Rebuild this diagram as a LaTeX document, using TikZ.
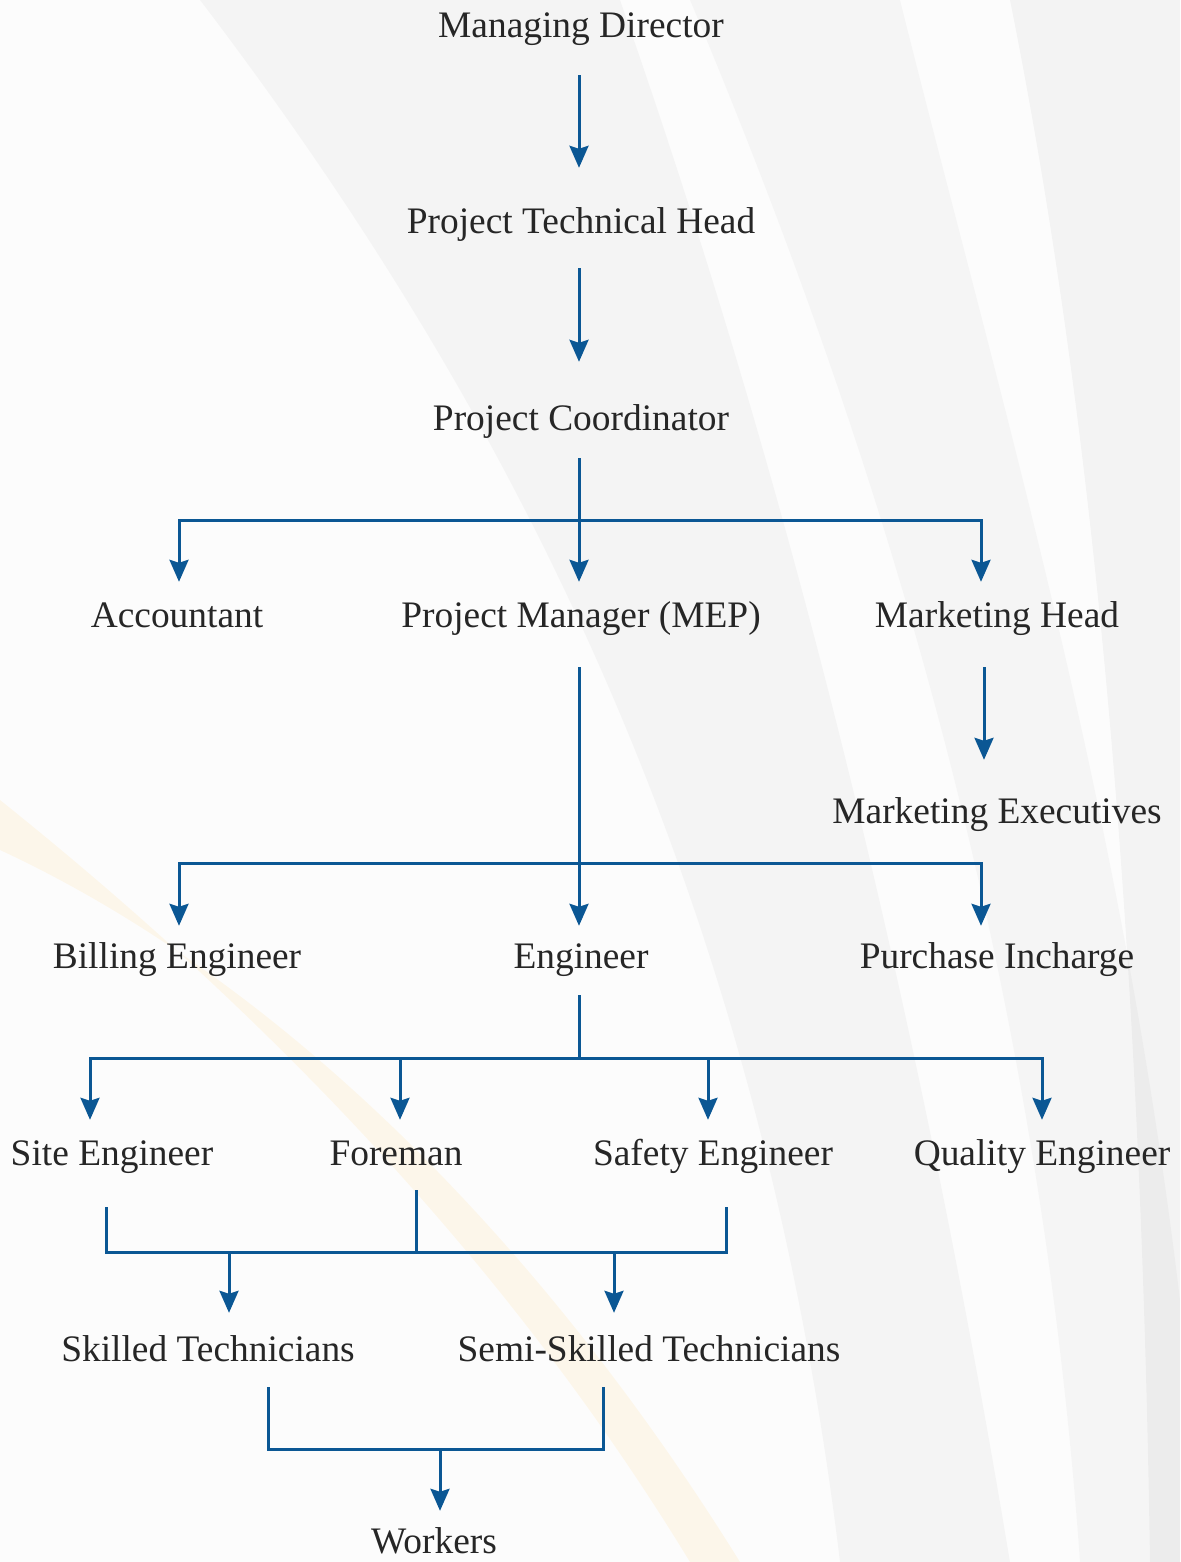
\documentclass[tikz,border=0pt]{standalone}
\usepackage{fontspec}
\setmainfont{Liberation Serif}
\newfontfamily\chartfont{Liberation Serif}
\usetikzlibrary{arrows.meta}

\definecolor{orgblue}{RGB}{11,87,148}
\definecolor{txtgray}{RGB}{38,38,38}

\begin{document}
\begin{tikzpicture}[x=1pt, y=-1pt,
    lbl/.style={font=\chartfont\fontsize{37.4}{44}\selectfont, text=txtgray, text height=25pt, text depth=8pt, inner sep=0pt, anchor=base},
    link/.style={draw=orgblue, line width=3pt},
    arr/.style={link, -{Stealth[length=22pt, width=19pt, inset=3pt]}}]
        \useasboundingbox (0,0) rectangle (1180,1562);

        % Background
        \fill [white!98!gray] (0,0) rectangle (1180,1562);
        \fill [gray, opacity=0.06] (200,0) .. controls (520,420) and (760,900) .. (840,1562) -- (1010,1562) .. controls (900,900) and (760,400) .. (620,0) -- cycle;
        \fill [gray, opacity=0.05] (690,0) .. controls (900,500) and (1040,1000) .. (1080,1562) -- (1180,1562) -- (1180,1300) .. controls (1120,800) and (1000,400) .. (900,0) -- cycle;
        \fill [gray, opacity=0.07] (1010,0) .. controls (1090,400) and (1140,900) .. (1150,1562) -- (1180,1562) -- (1180,0) -- cycle;
        \fill [orange!60!yellow, opacity=0.07] (0,800) .. controls (250,1000) and (500,1250) .. (690,1562) -- (740,1562) .. controls (540,1240) and (280,980) .. (0,850) -- cycle;

        % Top levels
        \node [lbl] (md) at (581,38) {Managing Director};
        \node [lbl] (pth) at (581,234) {Project Technical Head};
        \node [lbl] (pc) at (581,430) {Project Coordinator};

        \draw [arr, shorten <=29pt, shorten >=41pt] ([xshift=-2pt]md.south) -- ([xshift=-2pt]pth.north);
        \draw [arr, shorten <=26pt, shorten >=43pt] ([xshift=-2pt]pth.south) -- ([xshift=-2pt]pc.north);

        % Coordinator branch
        \node [lbl] (acc) at (177,627) {Accountant};
        \node [lbl] (pm) at (581,627) {Project Manager (MEP)};
        \node [lbl] (mh) at (997,627) {Marketing Head};
        \node [lbl] (me) at (997,823) {Marketing Executives};

        \draw [arr, shorten <=20pt, shorten >=20pt] ([xshift=-2pt]pc.south) -- ([xshift=-2pt]pm.north);
        \draw [arr, shorten >=20pt] ([xshift=-2pt]pc.south) ++(0,82) -| ([xshift=2pt]acc.north);
        \draw [arr, shorten >=20pt] ([xshift=-2pt]pc.south) ++(0,82) -| ([xshift=-16pt]mh.north);
        \draw [arr, shorten <=32pt, shorten >=38pt] ([xshift=-13pt]mh.south) -- ([xshift=-13pt]me.north);

        % Manager branch
        \node [lbl] (bill) at (177,968) {Billing Engineer};
        \node [lbl] (eng) at (581,968) {Engineer};
        \node [lbl] (pur) at (997,968) {Purchase Incharge};

        \draw [arr, shorten <=32pt, shorten >=17pt] ([xshift=-2pt]pm.south) -- ([xshift=-2pt]eng.north);
        \draw [arr, shorten >=17pt] ([xshift=-2pt]pm.south) ++(0,228) -| ([xshift=2pt]bill.north);
        \draw [arr, shorten >=17pt] ([xshift=-2pt]pm.south) ++(0,228) -| ([xshift=-16pt]pur.north);

        % Engineer branch
        \node [lbl] (site) at (112,1165) {Site Engineer};
        \node [lbl] (fore) at (396,1165) {Foreman};
        \node [lbl] (safe) at (713,1165) {Safety Engineer};
        \node [lbl] (qual) at (1042,1165) {Quality Engineer};

        \draw [link, shorten <=19pt] ([xshift=-2pt]eng.south) -- ++(0,83);
        \draw [arr, shorten >=20pt] ([xshift=-2pt]eng.south) ++(0,82) -| ([xshift=-22pt]site.north);
        \draw [arr, shorten >=20pt] ([xshift=-2pt]eng.south) ++(0,82) -| ([xshift=4pt]fore.north);
        \draw [arr, shorten >=20pt] ([xshift=-2pt]eng.south) ++(0,82) -| ([xshift=-5pt]safe.north);
        \draw [arr, shorten >=20pt] ([xshift=-2pt]eng.south) ++(0,82) -| (qual.north);

        % Technicians
        \node [lbl] (skill) at (208,1361) {Skilled Technicians};
        \node [lbl] (semi) at (649,1361) {Semi-Skilled Technicians};

        \draw [link] ([xshift=-6pt, yshift=-34pt]site.south) -- ++(0,45) -| ([xshift=13pt, yshift=-34pt]safe.south);
        \draw [link] ([xshift=20pt, yshift=-17pt]fore.south) -- ++(0,62);
        \draw [arr, shorten >=23pt] ([xshift=21pt]skill.north) ++(0,-84) -- ([xshift=21pt]skill.north);
        \draw [arr, shorten >=23pt] ([xshift=-35pt]semi.north) ++(0,-84) -- ([xshift=-35pt]semi.north);

        % Workers
        \node [lbl, text depth=0pt] (work) at (434,1553) {Workers};

        \draw [link] ([xshift=60pt, yshift=-18pt]skill.south) -- ++(0,62) -| ([xshift=-46pt, yshift=-18pt]semi.south);
        \draw [arr, shorten >=17pt] ([xshift=6pt]work.north) ++(0,-79) -- ([xshift=6pt]work.north);
    \end{tikzpicture}
\end{document}
